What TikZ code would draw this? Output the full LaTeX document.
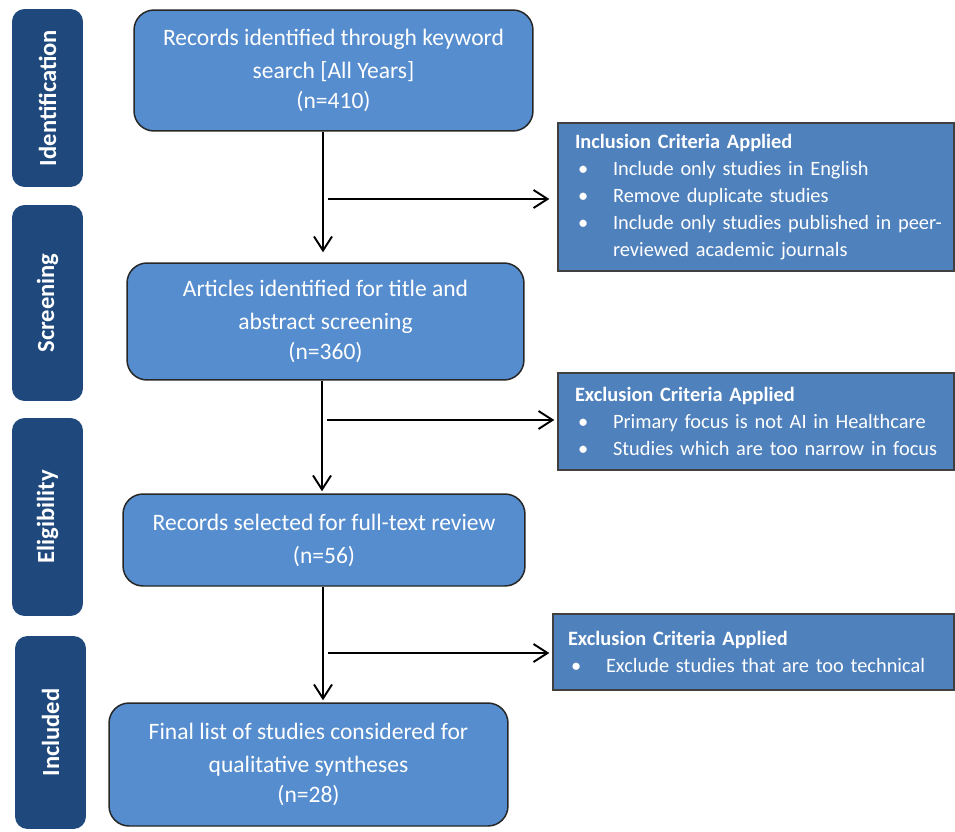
\documentclass[tikz,border=0pt]{standalone}
\usepackage{fontspec}
\setmainfont{Carlito}
\usetikzlibrary{arrows.meta,positioning}
\definecolor{stageblue}{RGB}{31,73,125}
\definecolor{boxblue}{RGB}{86,141,206}
\definecolor{critblue}{RGB}{79,129,189}
\tikzset{
    block/.style = {draw=black!85, fill=boxblue, rounded corners=0.4cm,
        line width=0.85pt, text=white, align=center,
        font=\fontsize{13.4}{17}\selectfont},
    crit/.style = {draw=black!75, fill=critblue, line width=0.85pt,
        text=white, align=left, inner xsep=0.34cm, text width=7.24cm,
        font=\fontsize{11.6}{15.3}\selectfont},
    stage/.style = {fill=stageblue, rounded corners=0.25cm, rotate=90,
        text=white, minimum height=1.42cm,
        font=\bfseries\fontsize{14}{16}\selectfont},
    arrow/.style = {draw, line width=1.1pt, -{Straight Barb[length=0.28cm,width=0.36cm]}}
}
\newcommand{\critem}[1]{\mbox{\makebox[0.76cm][l]{\hspace{0.06cm}\textbullet}#1}}
\newcommand{\critcont}[1]{\mbox{\hspace*{0.76cm}#1}}

\begin{document}
\begin{tikzpicture}[x=0.02cm, y=-0.02cm]
    \useasboundingbox (0,0) rectangle (955,831);
    \node [stage, minimum width=3.56cm] (ident) at (47.5,98) {Identification};
    \node [stage, minimum width=3.92cm] (screen) at (47.5,303) {Screening};
    \node [stage, minimum width=3.96cm] (elig) at (47.5,517) {Eligibility};
    \node [stage, minimum width=3.86cm] (incl) at (50.5,732.5) {Included};
    \node [block, minimum width=7.98cm, minimum height=2.42cm] (recs) at (333.5,70.5)
        {Records identified through keyword\\[1.8pt]search [All Years]\\(n=410)};
    \node [block, minimum width=7.94cm, minimum height=2.34cm] (artic) at (325.5,321.5)
        {Articles identified for title and\\[1.8pt]abstract screening\\(n=360)};
    \node [block, minimum width=8.04cm, minimum height=1.84cm] (select) at (324,540)
        {Records selected for full-text review\\[1.8pt](n=56)};
    \node [block, minimum width=7.98cm, minimum height=2.46cm] (final) at (308.5,764.5)
        {Final list of studies considered for\\[1.8pt]qualitative syntheses\\(n=28)};
    \node [crit, minimum height=2.96cm] (incc) at (756,197)
        {\textbf{Inclusion Criteria Applied}\\
         \critem{Include only studies in English}\\
         \critem{Remove duplicate studies}\\
         \critem{Include only studies published in peer-}\\
         \critcont{reviewed academic journals}};
    \node [crit, minimum height=1.94cm] (exca) at (756,421.5)
        {\textbf{Exclusion Criteria Applied}\\
         \critem{Primary focus is not AI in Healthcare}\\
         \critem{Studies which are too narrow in focus}};
    \node [crit, minimum height=1.52cm, text width=7.42cm, inner xsep=0.3cm] (excb) at (753.5,652)
        {\textbf{Exclusion Criteria Applied}\\
         \critem{Exclude studies that are too technical}};
    \coordinate (br1) at (323,199);
    \coordinate (br2) at (322,420);
    \coordinate (br3) at (323,653);
    \draw [arrow, shorten >=0.2cm] (br1 |- recs.south) -- (br1 |- artic.north);
    \draw [arrow, shorten >=0.16cm] ([xshift=0.1cm]br1) -- (br1 -| incc.west);
    \draw [arrow, shorten >=0.04cm] (br2 |- artic.south) -- (br2 |- select.north);
    \draw [arrow, shorten >=0.06cm] ([xshift=0.1cm]br2) -- (br2 -| exca.west);
    \draw [arrow, shorten >=0.04cm] (br3 |- select.south) -- (br3 |- final.north);
    \draw [arrow, shorten >=0.06cm] ([xshift=0.1cm]br3) -- (br3 -| excb.west);
\end{tikzpicture}
\end{document}
